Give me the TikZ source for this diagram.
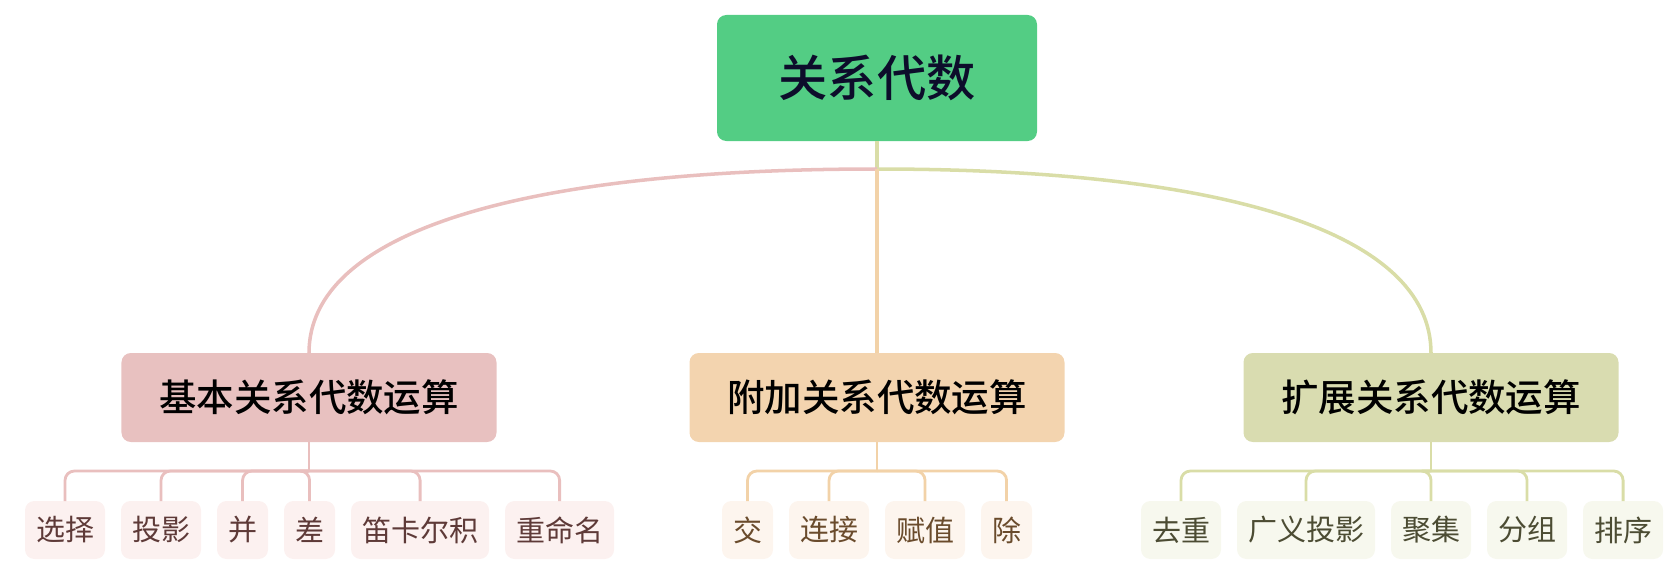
\documentclass[tikz,border=0pt]{standalone}
\usepackage{fontspec}
\usepackage{xcolor}
\usepackage{tikz}
\usetikzlibrary{positioning}
\newfontfamily\cjk[BoldFont={Noto Sans CJK SC Medium}]{Noto Sans CJK SC}
\definecolor{jade}{HTML}{53CD84}
\definecolor{ink}{HTML}{0D0D2B}
\definecolor{rose}{HTML}{E8C1C0}
\definecolor{roseline}{HTML}{E9BFBE}
\definecolor{rosepale}{HTML}{FCF1F0}
\definecolor{rosetext}{HTML}{5E3A38}
\definecolor{apricot}{HTML}{F3D4AF}
\definecolor{apricotline}{HTML}{F2D2A8}
\definecolor{apricotpale}{HTML}{FDF5EE}
\definecolor{apricottext}{HTML}{6A4B2C}
\definecolor{sage}{HTML}{D9DCB0}
\definecolor{sageline}{HTML}{D9DDA7}
\definecolor{sagepale}{HTML}{F7F8EE}
\definecolor{sagetext}{HTML}{4C4C33}

\begin{document}
\begin{tikzpicture}[
    x=0.03cm, y=-0.03cm,
    rootbox/.style={rectangle, rounded corners=8pt, fill=jade, text=ink, minimum width=9.6cm, minimum height=3.78cm, inner sep=0pt, outer sep=0pt, font=\cjk\bfseries\fontsize{42}{50}\selectfont},
    opbox/.style={rectangle, rounded corners=8pt, minimum width=11.25cm, minimum height=2.67cm, inner sep=0pt, outer sep=0pt, text=black, font=\cjk\bfseries\fontsize{32}{38}\selectfont},
    leafbox/.style={rectangle, rounded corners=8pt, minimum height=1.74cm, inner xsep=9.4pt, inner ysep=0pt, outer sep=0pt, font=\cjk\fontsize{24.75}{30}\selectfont},
    curveline/.style={line width=3pt},
    branchline/.style={line width=2.4pt, rounded corners=8pt},
  ]
  \useasboundingbox (0,0) rectangle (1679,586);

  % root and the three groups
  \node[rootbox] (algebra) at (877,78) {关系代数};
  \node[opbox, fill=rose] (basic) at (309,397.5) {基本关系代数运算};
  \node[opbox, fill=apricot] (extra) at (877,397.5) {附加关系代数运算};
  \node[opbox, fill=sage] (extended) at (1431,397.5) {扩展关系代数运算};

  % leaves
  \begin{scope}[every node/.style={leafbox, fill=rosepale, text=rosetext}]
    \node[anchor=west] (select) at (25,530) {选择};
    \node[right=0.48cm of select] (project) {投影};
    \node[right=0.48cm of project] (union) {并};
    \node[right=0.48cm of union] (diff) {差};
    \node[right=0.48cm of diff] (product) {笛卡尔积};
    \node[right=0.48cm of product] (rename) {重命名};
  \end{scope}
  \begin{scope}[every node/.style={leafbox, fill=apricotpale, text=apricottext}]
    \node[anchor=west] (inter) at (722,530) {交};
    \node[right=0.48cm of inter] (join) {连接};
    \node[right=0.48cm of join] (assign) {赋值};
    \node[right=0.48cm of assign] (divide) {除};
  \end{scope}
  \begin{scope}[every node/.style={leafbox, fill=sagepale, text=sagetext}]
    \node[anchor=west] (dedup) at (1141,530) {去重};
    \node[right=0.48cm of dedup] (genproj) {广义投影};
    \node[right=0.48cm of genproj] (aggr) {聚集};
    \node[right=0.48cm of aggr] (group) {分组};
    \node[right=0.48cm of group] (sort) {排序};
  \end{scope}

  % top connectors
  \path (algebra.south) ++(0,28) coordinate (fork);
  \draw[curveline, sageline] (algebra.south) -- (fork);
  \draw[curveline, roseline] (fork) .. controls +(-360,0) and +(0,-120) .. (basic.north);
  \draw[curveline, sageline] (fork) .. controls +(350,0) and +(0,-120) .. (extended.north);
  \draw[curveline, apricotline] (fork) -- (extra.north);

  % leaf connectors
  \path (basic.south) ++(0,29) coordinate (basicbus);
  \path (extra.south) ++(0,29) coordinate (extrabus);
  \path (extended.south) ++(0,29) coordinate (extendedbus);
  \draw[branchline, roseline] (basic.south) -- (basicbus);
  \draw[branchline, apricotline] (extra.south) -- (extrabus);
  \draw[branchline, sageline] (extended.south) -- (extendedbus);
  \foreach \leaf in {select, project, union, diff, product, rename}
    \draw[branchline, roseline] (basicbus) -| (\leaf.north);
  \foreach \leaf in {inter, join, assign, divide}
    \draw[branchline, apricotline] (extrabus) -| (\leaf.north);
  \foreach \leaf in {dedup, genproj, aggr, group, sort}
    \draw[branchline, sageline] (extendedbus) -| (\leaf.north);
\end{tikzpicture}
\end{document}
